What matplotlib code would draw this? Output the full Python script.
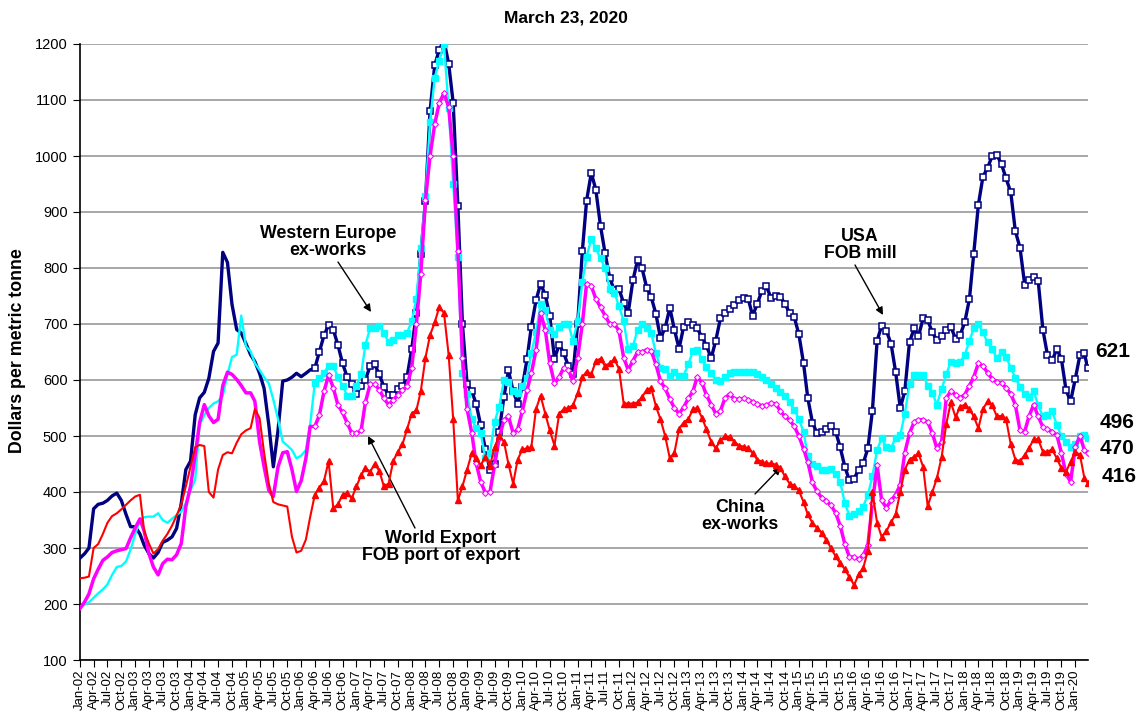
import matplotlib
matplotlib.use("Agg")
import matplotlib.pyplot as plt
import matplotlib.dates as mdates
import pandas as pd

plt.rcParams["font.family"] = ["Liberation Sans", "DejaVu Sans"]

# monthly readings Jan-02 .. Mar-20, plus the latest weekly reading (23 Mar 2020)
dates = list(pd.date_range("2002-01-01", "2020-03-01", freq="MS")) + [pd.Timestamp("2020-03-23")]

usa = [
    282, 290, 300, 370, 378, 380, 385, 393, 398, 385, 360, 338,
    338, 325, 305, 290, 282, 292, 310, 314, 320, 335, 380, 440,
    455, 538, 568, 578, 603, 651, 666, 828, 810, 735, 690, 684,
    665, 645, 633, 612, 585, 520, 445, 510, 598, 600, 605, 612,
    606, 612, 618, 621, 650, 680, 698, 690, 662, 630, 605, 592,
    575, 590, 600, 625, 628, 610, 588, 573, 574, 584, 589, 605,
    655, 720, 825, 920, 1080, 1162, 1190, 1206, 1165, 1095, 910, 700,
    592, 580, 558, 519, 477, 440, 450, 508, 570, 617, 580, 558,
    588, 638, 695, 742, 772, 752, 714, 638, 663, 648, 625, 610,
    700, 830, 920, 970, 940, 875, 827, 782, 760, 763, 737, 720,
    778, 814, 800, 765, 748, 718, 675, 693, 729, 690, 656, 695,
    704, 698, 692, 677, 661, 639, 670, 710, 720, 726, 734, 742,
    747, 745, 715, 735, 759, 767, 747, 750, 749, 736, 720, 713,
    682, 630, 568, 524, 505, 508, 513, 517, 508, 480, 445, 421,
    424, 440, 451, 478, 545, 670, 697, 688, 665, 615, 550, 580,
    668, 692, 678, 710, 707, 685, 671, 678, 690, 695, 674, 680,
    703, 745, 825, 913, 963, 979, 1000, 1002, 985, 960, 935, 866,
    836, 770, 778, 784, 777, 690, 645, 635, 655, 638, 582, 562,
    602, 645, 648, 621,
]

west_europe = [
    195, 199, 203, 211, 219, 226, 235, 252, 266, 268, 276, 297,
    325, 350, 355, 356, 356, 362, 350, 345, 352, 359, 365, 380,
    403, 422, 520, 537, 550, 558, 562, 572, 610, 641, 645, 715,
    660, 651, 630, 618, 605, 594, 565, 530, 490, 483, 475, 460,
    465, 475, 520, 595, 603, 613, 625, 625, 605, 590, 572, 571,
    590, 610, 663, 692, 692, 697, 684, 668, 671, 680, 680, 684,
    705, 745, 835, 929, 1060, 1140, 1170, 1200, 1085, 950, 820, 612,
    575, 530, 514, 505, 460, 469, 525, 552, 600, 596, 580, 577,
    590, 603, 648, 685, 735, 725, 690, 682, 695, 700, 700, 670,
    706, 775, 820, 852, 835, 817, 800, 762, 756, 732, 705, 655,
    660, 690, 700, 692, 684, 648, 622, 620, 608, 615, 608, 608,
    628, 652, 653, 637, 623, 612, 600, 598, 605, 612, 615, 615,
    615, 615, 614, 610, 606, 600, 593, 585, 579, 571, 560, 547,
    531, 507, 465, 450, 446, 439, 440, 441, 433, 418, 380, 358,
    360, 366, 374, 395, 428, 475, 496, 480, 478, 497, 502, 540,
    592, 609, 609, 609, 590, 577, 556, 584, 610, 633, 630, 632,
    645, 670, 692, 700, 685, 667, 655, 639, 650, 641, 622, 604,
    588, 575, 570, 580, 555, 535, 538, 544, 520, 500, 490, 481,
    485, 500, 502, 496,
]

world_export = [
    192, 204, 218, 245, 262, 278, 284, 292, 295, 297, 299, 318,
    336, 352, 330, 290, 266, 252, 272, 280, 279, 288, 308, 374,
    410, 466, 524, 556, 536, 524, 530, 590, 614, 610, 601, 590,
    577, 577, 562, 490, 445, 403, 392, 445, 470, 472, 440, 401,
    420, 460, 517, 517, 537, 580, 609, 586, 555, 542, 523, 505,
    505, 510, 560, 592, 592, 583, 567, 556, 564, 574, 582, 589,
    622, 700, 790, 922, 1000, 1057, 1095, 1112, 1088, 1000, 830, 640,
    548, 505, 452, 418, 399, 400, 448, 497, 528, 535, 505, 512,
    545, 582, 612, 653, 720, 690, 630, 594, 605, 622, 618, 598,
    640, 700, 772, 768, 745, 730, 715, 700, 700, 688, 640, 618,
    634, 650, 650, 654, 652, 628, 598, 585, 566, 550, 540, 551,
    567, 580, 606, 595, 573, 556, 540, 545, 568, 575, 566, 566,
    567, 565, 561, 557, 554, 555, 559, 557, 545, 535, 528, 518,
    500, 477, 454, 417, 401, 390, 384, 376, 363, 340, 307, 284,
    284, 280, 287, 305, 380, 448, 385, 372, 385, 395, 413, 470,
    505, 525, 529, 529, 525, 505, 478, 490, 568, 580, 574, 568,
    574, 590, 605, 630, 625, 613, 602, 597, 594, 586, 575, 556,
    510, 508, 535, 556, 535, 516, 512, 508, 502, 470, 432, 418,
    480, 500, 475, 470,
]

china = [
    246, 247, 249, 300, 307, 325, 345, 357, 362, 369, 377, 385,
    392, 395, 330, 308, 290, 298, 313, 325, 340, 358, 378, 410,
    445, 480, 484, 482, 400, 390, 440, 466, 471, 469, 488, 503,
    510, 514, 548, 532, 470, 415, 382, 378, 376, 374, 320, 292,
    295, 315, 355, 395, 408, 420, 455, 371, 378, 395, 398, 389,
    410, 430, 443, 436, 450, 438, 410, 415, 455, 472, 485, 512,
    540, 546, 580, 640, 680, 703, 730, 720, 645, 530, 385, 410,
    440, 470, 460, 448, 462, 447, 480, 500, 490, 450, 415, 458,
    476, 478, 480, 548, 572, 540, 510, 483, 540, 548, 550, 555,
    576, 605, 615, 610, 634, 638, 625, 630, 637, 620, 558, 558,
    558, 560, 570, 582, 586, 553, 530, 500, 460, 470, 513, 524,
    530, 548, 550, 533, 512, 490, 478, 492, 500, 498, 490, 483,
    481, 478, 470, 458, 454, 451, 451, 449, 443, 428, 415, 411,
    403, 382, 360, 345, 336, 327, 315, 300, 285, 273, 262, 248,
    234, 253, 264, 295, 400, 345, 320, 330, 346, 360, 400, 440,
    458, 463, 469, 445, 375, 400, 425, 462, 522, 560, 534, 552,
    556, 548, 535, 514, 548, 562, 555, 535, 536, 530, 485, 458,
    455, 466, 478, 494, 494, 472, 472, 476, 460, 443, 436, 454,
    472, 466, 425, 416,
]

W, H = 1140, 719
fig = plt.figure(figsize=(W / 100, H / 100), dpi=100)
ax = fig.add_axes([80 / W, 1 - 660 / H, (1088 - 80) / W, (660 - 44) / H])


def fpos(x, y):
    # figure pixel (from top-left) -> figure fraction
    return x / W, 1 - y / H


marker_start = slice(51, None)  # weekly markers start Apr-06

ax.plot(dates, usa, color="#000080", lw=2.4, marker="s", ms=4.2, mfc="white",
        mec="#000080", mew=1.1, markevery=marker_start, zorder=3)
ax.plot(dates, west_europe, color="#00FFFF", lw=1.7, marker="s", ms=4.6,
        mfc="#00FFFF", mec="#00FFFF", markevery=marker_start, zorder=4)
ax.plot(dates, world_export, color="#FF00FF", lw=2.5, marker="D", ms=3.0, mfc="white",
        mec="#FF00FF", mew=0.8, markevery=marker_start, zorder=5)
ax.plot(dates, china, color="#FF0000", lw=1.5, marker="^", ms=4.2, mfc="#FF0000",
        mec="#FF0000", markevery=marker_start, zorder=6)

ax.set_ylim(100, 1200)
ax.set_yticks(range(100, 1201, 100))
ax.set_xlim(pd.Timestamp("2002-01-01"), pd.Timestamp("2020-03-25"))
ax.xaxis.set_major_locator(mdates.MonthLocator(bymonth=[1, 4, 7, 10]))
ax.xaxis.set_major_formatter(mdates.DateFormatter("%b-%y"))
ax.tick_params(axis="x", labelsize=9.5, rotation=90, length=5, pad=2, direction="out")
ax.tick_params(axis="y", labelsize=10.5, length=5, pad=4, direction="out")
ax.grid(axis="y", color="#A0A0A0", lw=1.3)
ax.set_axisbelow(True)
for side in ("top", "right"):
    ax.spines[side].set_visible(False)
for side in ("left", "bottom"):
    ax.spines[side].set_linewidth(1.2)

fig.text(*fpos(566, 18), "March 23, 2020", ha="center", va="center",
         fontsize=12.5, fontweight="bold")
fig.text(*fpos(18, 351), "Dollars per metric tonne", ha="center", va="center",
         rotation=90, fontsize=12.8, fontweight="bold")

labels = [
    ("Western Europe\nex-works", (328, 242), (338, 262), (371, 312)),
    ("World Export\nFOB port of export", (441, 547), (415, 528), (368, 436)),
    ("China\nex-works", (740, 516), (755, 494), (781, 467)),
    ("USA\nFOB mill", (860, 245), (855, 265), (883, 315)),
]
for txt, pos, start, tip in labels:
    fig.text(*fpos(*pos), txt, ha="center", va="center", fontsize=12.8,
             fontweight="bold", linespacing=1.05)
    ax.annotate("", xy=fpos(*tip), xycoords="figure fraction",
                xytext=fpos(*start), textcoords="figure fraction",
                arrowprops=dict(arrowstyle="-|>", color="black", lw=1.0,
                                mutation_scale=11, shrinkA=0, shrinkB=0))

# latest values at the right end
ends = [(usa, (1113, 352)), (west_europe, (1117, 423)),
        (world_export, (1117, 448)), (china, (1119, 476))]
for series, pos in ends:
    fig.text(*fpos(*pos), f"{series[-1]}", ha="center", va="center",
             fontsize=15, fontweight="bold")

fig.savefig("out.png", dpi=100)
